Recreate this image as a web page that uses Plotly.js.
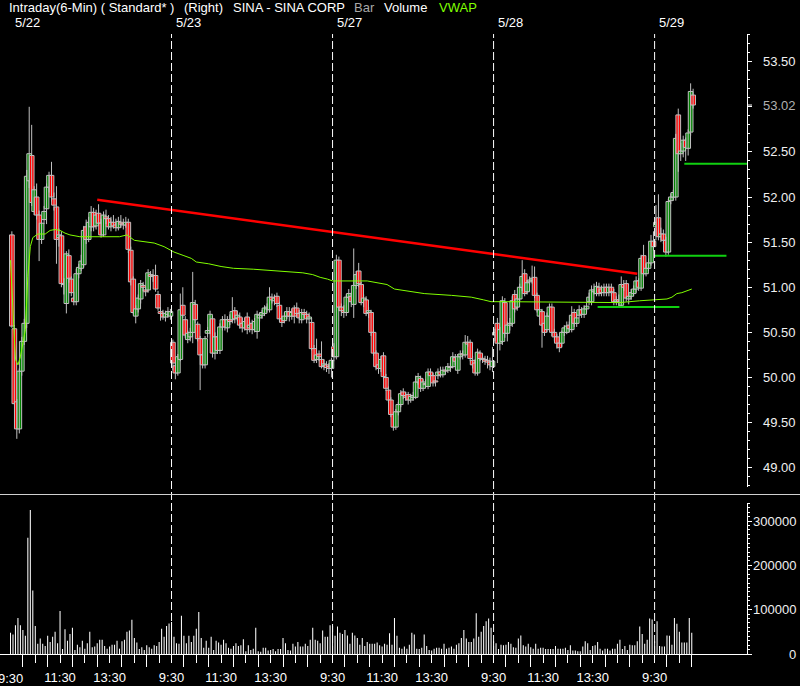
<!DOCTYPE html>
<html><head><meta charset="utf-8">
<script src="https://cdn.plot.ly/plotly-3.0.1.min.js"></script>
<style>html,body{margin:0;padding:0;background:#000;}#chart{width:800px;height:686px;}</style>
</head><body><div id="chart"></div>
<script>
// ---------------- DATA ----------------
const dayLabels = ['5/22', '5/23', '5/27', '5/28', '5/29'];
const barsPerDay = 65;               // 6-minute bars, 9:30-16:00
const halfHourSlots = [0, 10, 20, 30, 40, 50, 60];
const halfHourText  = ['9:30', '', '11:30', '', '13:30', '', ''];
const hourSlots = [5, 15, 25, 35, 45, 55];
const priceTicks = [49.00, 49.50, 50.00, 50.50, 51.00, 51.50, 52.00, 52.50, 53.00, 53.50];
const priceTickLabels = [49.00, 49.50, 50.00, 50.50, 51.00, 51.50, 52.00, 52.50, 53.50];
const volumeTicks = [0, 100000, 200000, 300000];

// 5/22
const open_0522 = [51.58,50.54,49.73,49.43,50.07,50.40,50.60,52.18,52.46,51.84,52.00,51.80,51.53,51.75,51.87,52.11,52.24,51.98,51.89,51.55,51.57,51.04,50.82,51.35,51.09,50.88,50.84,51.15,51.21,51.25,51.67,51.53,51.67,51.83,51.68,51.82,51.71,51.58,51.78,51.76,51.67,51.72,51.69,51.66,51.72,51.70,51.69,51.72,51.41,51.09,50.68,50.76,50.87,51.02,50.97,50.97,51.14,51.12,51.13,50.92,50.73,50.71,50.67,50.70,50.68];
const high_0522 = [51.62,50.58,49.76,50.10,50.45,50.65,52.30,53.00,52.80,52.12,52.15,51.85,51.76,51.90,52.15,52.28,52.39,52.05,52.12,51.65,51.62,51.10,51.40,51.42,51.12,50.95,51.20,51.26,51.36,51.68,51.75,51.78,51.90,51.88,51.86,51.92,51.76,51.84,51.86,51.80,51.78,51.80,51.76,51.78,51.80,51.76,51.78,51.76,51.45,51.12,50.80,50.92,51.08,51.06,51.00,51.20,51.18,51.20,51.25,50.96,50.78,50.75,50.74,50.78,50.76];
const low_0522  = [50.55,49.70,49.32,49.38,50.02,50.36,50.55,52.10,51.90,51.80,51.75,51.29,51.48,51.70,51.70,52.05,51.95,51.85,51.26,51.45,51.00,50.92,50.71,51.05,50.90,50.80,50.80,51.10,51.18,51.22,51.48,51.50,51.62,51.62,51.64,51.68,51.55,51.56,51.70,51.64,51.62,51.65,51.62,51.63,51.66,51.64,51.66,51.38,51.02,50.70,50.60,50.72,50.82,50.96,50.90,50.94,51.08,51.06,50.95,50.74,50.63,50.64,50.62,50.66,50.64];
const close_0522= [50.57,49.71,49.43,50.07,50.40,50.60,52.23,52.48,51.94,52.08,51.80,51.53,51.71,51.84,52.11,52.24,52.00,51.91,51.53,51.58,51.04,51.03,51.37,51.10,50.94,50.84,51.15,51.22,51.29,51.63,51.53,51.72,51.83,51.67,51.80,51.71,51.58,51.80,51.76,51.67,51.72,51.68,51.66,51.73,51.70,51.69,51.72,51.42,51.06,50.72,50.76,50.88,51.04,51.00,50.95,51.16,51.12,51.13,50.98,50.77,50.71,50.67,50.71,50.73,50.73];
const volume_0522 = [48000,44000,65000,81000,65000,54000,41000,262000,325000,143000,63000,23000,35000,23000,18000,41000,27000,39000,50000,24000,97000,11000,56000,30000,45000,59000,9000,21000,15000,30000,12000,24000,50000,15000,17000,24000,32000,32000,18000,12000,17000,21000,21000,30000,12000,29000,32000,50000,53000,77000,36000,26000,11000,15000,9000,20000,15000,12000,20000,18000,27000,57000,39000,63000,69000];

// 5/23
const open_0523 = [50.39,50.13,50.05,50.20,50.80,50.64,50.42,50.45,50.50,50.81,50.59,50.43,50.25,50.14,50.49,50.52,50.65,50.27,50.45,50.30,50.56,50.64,50.55,50.64,50.64,50.74,50.66,50.67,50.60,50.55,50.67,50.55,50.60,50.53,50.51,50.66,50.69,50.71,50.76,50.75,50.89,50.85,50.90,50.80,50.65,50.63,50.68,50.73,50.68,50.77,50.77,50.71,50.64,50.72,50.70,50.65,50.61,50.32,50.20,50.26,50.20,50.13,50.14,50.12,50.10];
const high_0523 = [50.42,50.16,50.26,50.93,51.00,50.68,50.52,50.55,51.17,50.86,50.62,50.46,50.30,50.46,50.56,50.74,50.68,50.50,50.52,50.60,50.68,50.70,50.68,50.70,50.89,50.78,50.74,50.72,50.66,50.66,50.72,50.62,50.64,50.66,50.74,50.72,50.75,50.80,50.82,51.00,50.93,50.92,50.94,50.84,50.68,50.72,50.78,50.78,50.76,50.80,50.83,50.75,50.76,50.76,50.74,50.72,50.66,50.36,50.43,50.30,50.40,50.20,50.18,50.16,50.22];
const low_0523  = [50.08,49.98,50.02,50.18,50.66,50.44,50.38,50.40,50.38,50.60,50.40,49.86,50.10,50.10,50.44,50.48,50.22,50.20,50.26,50.26,50.52,50.52,50.50,50.58,50.60,50.60,50.62,50.54,50.50,50.52,50.48,50.50,50.48,50.50,50.43,50.62,50.65,50.68,50.72,50.72,50.82,50.80,50.78,50.62,50.56,50.60,50.65,50.62,50.64,50.60,50.66,50.60,50.60,50.66,50.60,50.60,50.30,50.16,50.16,50.18,50.10,50.08,50.06,50.04,50.00];
const close_0523= [50.16,50.05,50.23,50.75,50.69,50.47,50.49,50.50,50.83,50.64,50.43,50.25,50.14,50.43,50.52,50.70,50.27,50.45,50.30,50.56,50.64,50.56,50.64,50.62,50.73,50.65,50.69,50.58,50.55,50.62,50.53,50.58,50.53,50.62,50.70,50.69,50.72,50.77,50.78,50.89,50.86,50.88,50.82,50.65,50.61,50.68,50.73,50.68,50.72,50.68,50.71,50.66,50.72,50.70,50.65,50.67,50.32,50.19,50.25,50.23,50.12,50.15,50.11,50.10,50.19];
const volume_0523 = [72000,39000,24000,23000,86000,41000,24000,41000,27000,41000,57000,95000,36000,14000,30000,14000,39000,9000,30000,26000,21000,32000,24000,14000,12000,18000,24000,18000,20000,33000,6000,20000,9000,12000,59000,6000,5000,14000,14000,8000,9000,11000,6000,11000,11000,36000,24000,9000,8000,23000,17000,27000,17000,17000,23000,18000,32000,59000,32000,30000,24000,53000,39000,39000,65000];

// 5/27
const open_0527 = [50.34,50.23,51.30,50.78,50.74,50.72,50.89,50.90,50.81,51.02,51.18,51.03,50.83,50.86,50.72,50.72,50.50,50.27,50.14,50.10,50.24,50.00,49.86,49.75,49.59,49.45,49.62,49.70,49.84,49.80,49.81,49.75,49.78,49.78,49.95,49.99,49.88,49.93,49.90,50.06,50.02,49.96,50.02,50.06,50.03,50.08,50.08,50.12,50.12,50.22,50.08,50.23,50.26,50.25,50.39,50.39,50.19,50.16,50.05,50.27,50.21,50.20,50.19,50.17,50.12];
const high_0527 = [50.38,51.36,51.34,50.82,50.80,50.92,50.98,50.94,51.43,51.18,51.27,51.06,50.92,50.90,50.78,50.75,50.53,50.30,50.18,50.24,50.28,50.04,49.90,49.78,49.62,49.65,49.73,49.86,49.88,49.84,49.84,49.82,49.84,50.02,50.05,50.02,49.98,49.98,50.10,50.10,50.05,50.00,50.10,50.12,50.12,50.12,50.16,50.16,50.28,50.26,50.26,50.30,50.30,50.47,50.46,50.42,50.24,50.20,50.32,50.30,50.26,50.24,50.24,50.22,50.34];
const low_0527  = [50.18,50.20,50.74,50.68,50.66,50.68,50.84,50.78,50.66,50.98,51.00,50.80,50.78,50.68,50.66,50.46,50.24,50.08,50.04,50.06,49.98,49.85,49.72,49.56,49.41,49.42,49.58,49.67,49.76,49.74,49.70,49.72,49.74,49.76,49.92,49.84,49.85,49.88,49.87,49.98,49.90,49.90,49.98,50.00,50.00,50.03,50.05,50.06,50.10,50.14,50.04,50.20,50.20,50.22,50.34,50.18,50.10,50.02,50.02,50.18,50.16,50.14,50.10,50.08,50.06];
const close_0527= [50.23,51.30,50.78,50.74,50.72,50.89,50.93,50.84,51.02,51.14,51.04,50.83,50.88,50.71,50.74,50.50,50.27,50.12,50.10,50.20,50.01,49.88,49.75,49.59,49.45,49.62,49.70,49.82,49.80,49.78,49.75,49.79,49.80,49.95,50.01,49.88,49.95,49.92,50.06,50.02,49.94,49.95,50.06,50.03,50.08,50.07,50.12,50.11,50.23,50.18,50.23,50.26,50.25,50.39,50.37,50.21,50.14,50.05,50.28,50.21,50.20,50.18,50.17,50.14,50.18];
const volume_0527 = [63000,41000,62000,48000,45000,54000,42000,23000,48000,42000,36000,21000,36000,18000,27000,23000,23000,23000,26000,20000,17000,23000,21000,47000,21000,81000,41000,14000,12000,17000,12000,21000,48000,44000,12000,11000,14000,44000,18000,9000,8000,12000,14000,14000,12000,23000,12000,14000,17000,12000,21000,24000,36000,54000,35000,27000,27000,35000,92000,39000,50000,63000,74000,80000,59000];

// 5/28
const open_0528 = [50.47,50.60,50.38,50.40,50.83,50.49,50.58,50.60,50.92,50.78,50.87,51.00,51.15,50.95,51.06,51.08,51.11,50.91,50.68,50.73,50.60,50.53,50.68,50.78,50.50,50.45,50.38,50.38,50.50,50.50,50.58,50.53,50.72,50.60,50.69,50.75,50.70,50.76,50.84,50.84,50.95,50.93,51.00,50.98,50.94,51.00,50.94,51.00,50.94,50.84,50.86,50.80,51.03,51.04,50.87,50.90,50.93,50.98,51.07,50.99,51.35,51.15,51.21,51.27,51.51];
const high_0528 = [50.54,50.66,50.56,50.90,50.88,50.62,50.66,50.90,50.97,50.92,51.04,51.30,51.20,51.08,51.12,51.24,51.23,50.94,50.78,50.76,50.64,50.72,50.82,50.82,50.54,50.48,50.42,50.52,50.58,50.62,50.62,50.79,50.76,50.70,50.80,50.78,50.80,50.84,50.94,51.02,51.04,51.06,51.05,51.02,51.04,51.04,51.04,51.04,50.98,50.90,50.92,51.12,51.08,51.08,50.94,50.98,51.02,51.12,51.10,51.36,51.47,51.26,51.32,51.58,51.62];
const low_0528  = [50.40,50.16,50.30,50.36,50.44,50.40,50.52,50.56,50.72,50.74,50.84,50.96,50.90,50.92,51.02,51.04,50.88,50.72,50.64,50.33,50.46,50.50,50.64,50.46,50.40,50.32,50.28,50.34,50.46,50.48,50.50,50.50,50.56,50.56,50.66,50.66,50.66,50.72,50.80,50.80,50.92,50.90,50.90,50.90,50.90,50.90,50.90,50.90,50.80,50.80,50.78,50.78,50.96,50.84,50.81,50.86,50.90,50.94,50.96,50.96,51.12,51.12,51.18,51.24,51.40];
const close_0528= [50.50,50.38,50.53,50.85,50.49,50.58,50.60,50.85,50.76,50.87,51.00,51.12,50.93,51.05,51.08,51.10,50.91,50.75,50.75,50.58,50.50,50.68,50.78,50.50,50.45,50.38,50.33,50.50,50.55,50.57,50.54,50.69,50.60,50.66,50.75,50.70,50.76,50.79,50.89,50.97,50.97,51.01,50.93,50.94,51.00,50.94,51.00,50.95,50.84,50.86,50.84,51.03,51.00,50.88,50.90,50.94,50.98,51.07,51.00,51.32,51.15,51.21,51.27,51.51,51.45];
const volume_0528 = [29000,24000,11000,21000,20000,21000,27000,23000,15000,14000,35000,42000,20000,17000,23000,15000,12000,23000,12000,14000,14000,11000,11000,11000,11000,18000,12000,12000,12000,14000,9000,20000,8000,8000,6000,6000,17000,29000,24000,9000,18000,20000,27000,12000,8000,12000,12000,8000,12000,12000,23000,32000,11000,18000,9000,21000,20000,20000,29000,62000,45000,23000,32000,80000,78000];

// 5/29 (partial day)
const open_0529 = [51.67,51.77,51.56,51.59,51.52,51.39,51.96,52.00,52.00,52.91,52.48,52.51,52.63,52.54,52.72,53.13];
const high_0529 = [51.91,52.03,51.66,51.64,51.56,51.98,52.04,52.08,52.70,52.98,52.60,52.68,52.66,52.75,53.26,53.20];
const low_0529  = [51.52,51.52,51.50,51.48,51.34,51.36,51.92,51.96,51.96,52.28,52.40,52.44,52.40,52.46,52.68,52.98];
const close_0529= [51.72,51.56,51.59,51.52,51.39,51.95,52.00,52.05,52.65,52.48,52.51,52.63,52.55,52.71,53.17,53.02];
const volume_0529 = [29000,74000,18000,17000,17000,42000,41000,21000,81000,68000,50000,26000,26000,26000,81000,48000];

// VWAP line vertices (bar index, price)
const vwapBar   = [0,1,2,3,4,6,7,8,9,11,14,16,18,20,22,24,28,44,47,50,58,62,66,70,73,75,80,85,90,98,110,118,122,125,128,130,144,149,152,155,160,167,178,186,191,194,200,246,254,259,265,267,269,271,273,275];
const vwapPrice = [51.30,50.70,50.20,50.14,50.23,50.53,51.12,51.45,51.55,51.59,51.59,51.63,51.64,51.63,51.60,51.58,51.56,51.56,51.58,51.52,51.49,51.45,51.39,51.35,51.32,51.28,51.26,51.23,51.21,51.20,51.18,51.16,51.14,51.11,51.09,51.07,51.07,51.04,51.03,50.98,50.96,50.93,50.91,50.89,50.86,50.84,50.84,50.83,50.85,50.86,50.87,50.89,50.93,50.94,50.96,50.98];

// drawn trend line (red) and horizontal levels (green)
const trendBar   = [35, 253];
const trendPrice = [51.97, 51.15];
const levelStartBar = [237, 260, 272];
const levelEndBar   = [270, 289, 297.5];
const levelPrice    = [50.78, 51.35, 52.37];

// ---------------- BUILD ----------------
const opens  = [open_0522, open_0523, open_0527, open_0528, open_0529];
const highs  = [high_0522, high_0523, high_0527, high_0528, high_0529];
const lows   = [low_0522, low_0523, low_0527, low_0528, low_0529];
const closes = [close_0522, close_0523, close_0527, close_0528, close_0529];
const vols   = [volume_0522, volume_0523, volume_0527, volume_0528, volume_0529];

const X = [], O = [], H = [], L = [], C = [], V = [];
opens.forEach((arr, d) => arr.forEach((v, j) => {
  X.push(d * barsPerDay + j);
  O.push(v); H.push(highs[d][j]); L.push(lows[d][j]); C.push(closes[d][j]); V.push(vols[d][j]);
}));

const bodyBase = [], bodyLen = [], bodyCol = [];
const wickX = [], wickY = [];
for (let k = 0; k < X.length; k++) {
  bodyBase.push(Math.min(O[k], C[k]));
  bodyLen.push(Math.max(Math.abs(C[k] - O[k]), 0.012));
  bodyCol.push(C[k] >= O[k] ? '#008000' : '#ff0000');
  wickX.push(X[k] + 0.55, X[k] + 0.55, null);
  wickY.push(L[k], H[k], null);
}

const tickvals = [], ticktext = [], minorvals = [];
dayLabels.forEach((lab, d) => {
  const n = opens[d].length;
  halfHourSlots.forEach((s, q) => { if (s < n && !(d === 0 && s === 0)) { tickvals.push(d * barsPerDay + s); ticktext.push(halfHourText[q]); } });
  hourSlots.forEach(s => { if (s < n) minorvals.push(d * barsPerDay + s); });
});

const levelX = [], levelY = [];
levelPrice.forEach((p, k) => { levelX.push(levelStartBar[k], levelEndBar[k], null); levelY.push(p, p, null); });

const traces = [
  {type: 'scatter', mode: 'lines', x: wickX, y: wickY, xaxis: 'x', yaxis: 'y',
   line: {color: '#c0c0c0', width: 1}, hoverinfo: 'skip', showlegend: false},
  {type: 'bar', x: X, y: bodyLen, base: bodyBase, width: 1.9, offset: -0.4, xaxis: 'x', yaxis: 'y',
   marker: {color: bodyCol, line: {color: '#c0c0c0', width: 1}}, showlegend: false},
  {type: 'scatter', mode: 'lines', x: vwapBar, y: vwapPrice, xaxis: 'x', yaxis: 'y',
   line: {color: '#80ff00', width: 1}, showlegend: false},
  {type: 'scatter', mode: 'lines', x: trendBar, y: trendPrice, xaxis: 'x', yaxis: 'y',
   line: {color: '#ff0000', width: 2.5}, showlegend: false},
  {type: 'scatter', mode: 'lines', x: levelX, y: levelY, xaxis: 'x', yaxis: 'y', cliponaxis: false,
   line: {color: '#10d010', width: 2}, showlegend: false},
  {type: 'bar', x: X, y: V, width: 0.42, xaxis: 'x', yaxis: 'y2',
   marker: {color: '#ffffff', line: {width: 0}}, showlegend: false}
];

const W = 747, PH = 621, TOP = 34;
const px2py = y => (TOP + PH - y) / PH;
const fnt = 'Liberation Sans, Arial, sans-serif';
const xRange = [-4.24, 297.3];

const annotations = [];
[['Intraday(6-Min) ( Standard* )', 7, '#ffffff'], ['(Right)', 182, '#ffffff'],
 ['SINA - SINA CORP', 231, '#ffffff'], ['Bar', 352, '#a8a8a8'], ['Volume', 382, '#ffffff'],
 ['VWAP', 437, '#80ff00']].forEach(h => annotations.push({
  xref: 'paper', yref: 'paper', x: h[1] / W, y: px2py(7), xanchor: 'left', yanchor: 'middle',
  text: h[0], showarrow: false, font: {family: fnt, size: 13, color: h[2]}
}));
dayLabels.forEach((lab, d) => annotations.push({
  xref: 'x', yref: 'paper', x: d * barsPerDay + 1.0, y: px2py(23), xanchor: 'left', yanchor: 'middle',
  text: lab, showarrow: false, font: {family: fnt, size: 13, color: '#ffffff'}
}));
priceTickLabels.forEach(p => annotations.push({
  xref: 'paper', yref: 'y', x: 798 / W, y: p, xanchor: 'right', yanchor: 'middle',
  text: p.toFixed(2), showarrow: false, font: {family: fnt, size: 13, color: '#f0f0f0'}
}));
volumeTicks.forEach(v => annotations.push({
  xref: 'paper', yref: 'y2', x: 798 / W, y: v, xanchor: 'right', yanchor: 'middle',
  text: String(v), showarrow: false, font: {family: fnt, size: 13, color: '#f0f0f0'}
}));
const lastClose = C[C.length - 1];
annotations.push({
  xref: 'paper', yref: 'y', x: 798 / W, y: lastClose, xanchor: 'right', yanchor: 'middle',
  text: lastClose.toFixed(2), showarrow: false, font: {family: fnt, size: 13, color: '#b0b0b0'}
});
// first session label, partly cut by the left edge as in the original
annotations.push({
  xref: 'x', yref: 'paper', x: 0, y: px2py(678), xanchor: 'center', yanchor: 'middle',
  text: halfHourText[0], showarrow: false, font: {family: fnt, size: 13, color: '#ffffff'}
});

const shapes = [];
for (let d = 1; d < dayLabels.length; d++) {
  shapes.push({type: 'line', xref: 'x', yref: 'paper', x0: d * barsPerDay, x1: d * barsPerDay,
    y0: px2py(654), y1: 1, line: {color: '#ffffff', width: 1, dash: '8px,3px'}});
}
shapes.push({type: 'line', xref: 'paper', yref: 'paper', x0: 0, x1: 800 / W, y0: px2py(494.5), y1: px2py(494.5),
  line: {color: '#d0d0d0', width: 1}});
shapes.push({type: 'line', xref: 'paper', yref: 'y', x0: 1, x1: 1 + 5 / W, y0: lastClose, y1: lastClose,
  line: {color: '#ffffff', width: 1}});

const layout = {
  width: 800, height: 686,
  margin: {l: 0, r: 53, t: TOP, b: 686 - TOP - PH},
  paper_bgcolor: '#000000', plot_bgcolor: '#000000',
  font: {family: fnt, size: 13, color: '#ffffff'},
  barmode: 'overlay', showlegend: false, hovermode: false,
  xaxis: {
    anchor: 'y2', range: xRange, showgrid: false, zeroline: false,
    showline: true, linecolor: '#ffffff', linewidth: 1,
    tickmode: 'array', tickvals: tickvals, ticktext: ticktext,
    ticks: 'outside', ticklen: 8, tickcolor: '#ffffff', tickwidth: 1,
    ticklabelstandoff: 3,
    tickfont: {family: fnt, size: 13, color: '#ffffff'},
    minor: {tickmode: 'array', tickvals: minorvals, ticks: 'outside', ticklen: 12, tickcolor: '#ffffff', tickwidth: 1, showgrid: false}
  },
  yaxis: {
    domain: [px2py(487), 1], range: [48.786, 53.807], side: 'right', anchor: 'x',
    showgrid: false, zeroline: false, showline: true, linecolor: '#ffffff', linewidth: 1,
    tickmode: 'array', tickvals: priceTicks, ticks: 'outside', ticklen: 4, tickcolor: '#ffffff',
    showticklabels: false,
    minor: {dtick: 0.1, tick0: 49, ticks: 'outside', ticklen: 2, tickcolor: '#ffffff', showgrid: false}
  },
  yaxis2: {
    domain: [px2py(654), px2py(503)], range: [0, 340600], side: 'right', anchor: 'x',
    showgrid: false, zeroline: false, showline: true, linecolor: '#ffffff', linewidth: 1,
    tickmode: 'array', tickvals: volumeTicks, ticks: 'outside', ticklen: 4, tickcolor: '#ffffff',
    showticklabels: false,
    minor: {dtick: 10000, tick0: 0, ticks: 'outside', ticklen: 2, tickcolor: '#ffffff', showgrid: false}
  },
  annotations: annotations,
  shapes: shapes
};

Plotly.newPlot('chart', traces, layout, {displayModeBar: false, staticPlot: true});
</script>
</body></html>
